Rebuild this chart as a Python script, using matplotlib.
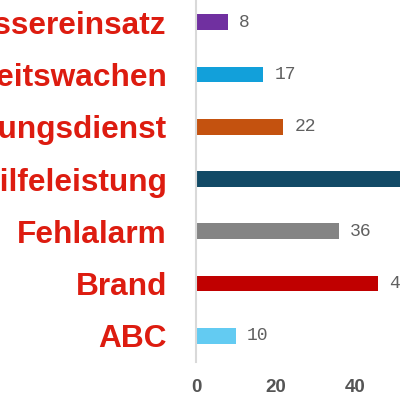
import matplotlib
matplotlib.use("Agg")
import matplotlib.pyplot as plt

categories = ["Wassereinsatz", "Sicherheitswachen", "Rettungsdienst",
              "Technische Hilfeleistung", "Fehlalarm", "Brand", "ABC"]
values = [8, 17, 22, 62, 36, 46, 10]
colors = ["#7030A0", "#12A0DA", "#C4520F", "#124A66", "#848484", "#C00000", "#63CBF2"]
xticks = [0, 20, 40]

fig = plt.figure(figsize=(4, 4), dpi=100)
ax = fig.add_axes([0.49, 0.095, 0.595, 0.915])

y = list(range(len(categories)))
ax.barh(y, values, height=0.3, color=colors)
ax.set_ylim(len(categories) - 0.5, -0.5)
ax.set_xlim(0, 60)

for yi, v in zip(y, values):
    ax.text(v + 2.8, yi, str(v), va="center", ha="left",
            fontsize=13, family="Liberation Mono", color="#606060")

ax.set_yticks(y)
ax.set_yticklabels(categories, fontsize=22.8, fontweight="bold",
                   family="Liberation Sans", color="#DD1C10")
ax.tick_params(axis="y", length=0, pad=21)
ax.set_xticks(xticks)
ax.set_xticklabels([str(t) for t in xticks], fontsize=13.5, fontweight="bold",
                   family="Liberation Sans", color="#555555")
ax.tick_params(axis="x", length=0, pad=12.5)

for s in ["top", "right", "bottom"]:
    ax.spines[s].set_visible(False)
ax.spines["left"].set_color("#D9D9D9")
ax.spines["left"].set_linewidth(1.5)

fig.savefig("out.png", dpi=100)
